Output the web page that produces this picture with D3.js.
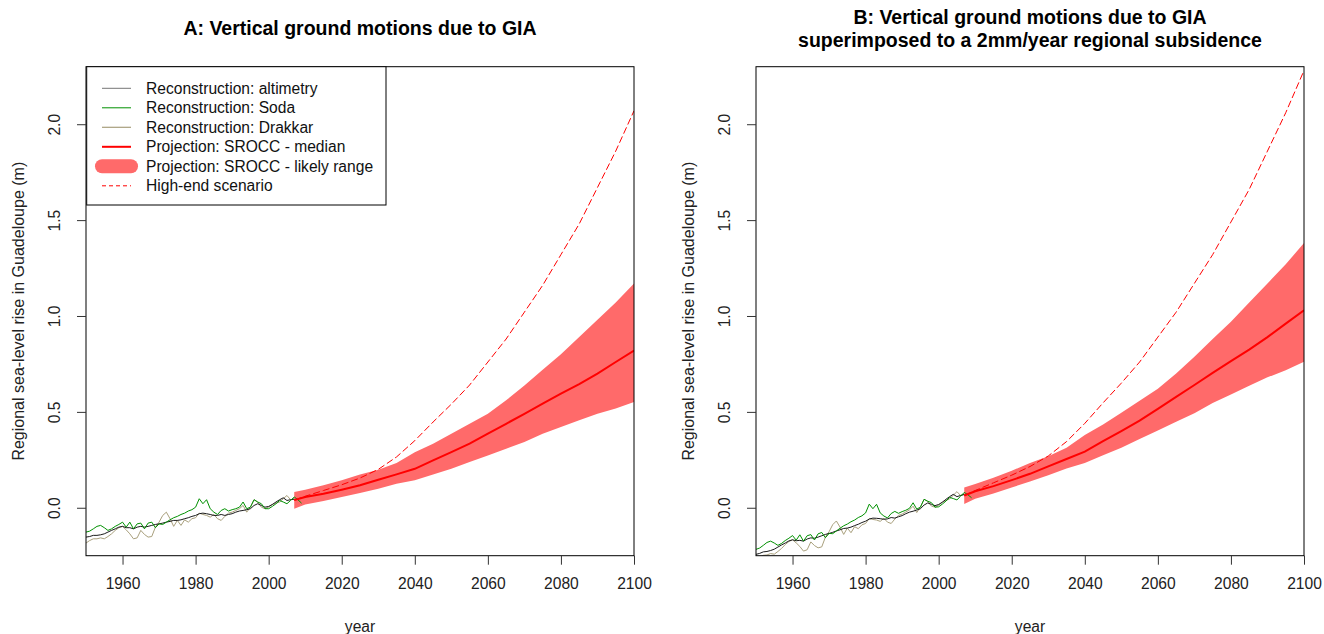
<!DOCTYPE html>
<html><head><meta charset="utf-8">
<script src="https://cdn.jsdelivr.net/npm/d3@7"></script>
<style>body{margin:0;background:#fff} text{font-family:"Liberation Sans",Arial,sans-serif}</style>
</head><body><svg id="c" width="1324" height="634"></svg>
<script>
// ---------- data ----------
const reconStart = 1950;
const altimetry = [-0.153,-0.150,-0.144,-0.144,-0.141,-0.136,-0.127,-0.118,-0.110,-0.101,
  -0.097,-0.104,-0.104,-0.110,-0.101,-0.097,-0.101,-0.097,-0.092,-0.087,
  -0.084,-0.080,-0.075,-0.071,-0.066,-0.066,-0.063,-0.057,-0.052,-0.045,
  -0.040,-0.031,-0.028,-0.031,-0.035,-0.040,-0.040,-0.035,-0.040,-0.035,
  -0.031,-0.023,-0.017,-0.014,-0.010,-0.005,0.012,0.021,0.012,0.003,
  0.007,0.017,0.030,0.042,0.052,0.038,0.042,0.045];
const soda = [-0.127,-0.122,-0.110,-0.097,-0.092,-0.104,-0.118,-0.110,-0.097,-0.087,
  -0.075,-0.101,-0.075,-0.110,-0.084,-0.080,-0.110,-0.080,-0.075,-0.104,
  -0.084,-0.087,-0.075,-0.063,-0.052,-0.045,-0.035,-0.028,-0.017,-0.010,
  0.003,0.047,0.021,0.042,-0.005,-0.023,-0.035,-0.014,-0.005,-0.017,
  -0.010,-0.005,0.003,0.030,-0.005,0.003,0.042,0.030,0.021,-0.005,
  -0.005,0.007,0.021,0.038,0.030,0.021,0.038,0.056,0.042,0.024];
const drakkar = [-0.184,-0.171,-0.162,-0.162,-0.157,-0.162,-0.150,-0.136,-0.118,-0.104,
  -0.097,-0.115,-0.136,-0.162,-0.157,-0.118,-0.139,-0.153,-0.150,-0.101,
  -0.075,-0.040,-0.023,-0.057,-0.097,-0.066,-0.092,-0.063,-0.075,-0.057,
  -0.052,-0.028,-0.035,-0.040,-0.049,-0.035,-0.057,-0.066,-0.045,-0.028,
  -0.023,-0.014,-0.005,0.012,-0.023,0.003,0.042,0.030,0.003,-0.005,
  0.003,0.017,0.024,0.030,0.047,0.064,0.042,0.047];

const projYears = [2007,2010,2015,2020,2025,2030,2035,2040,2045,2050,2055,2060,2065,2070,2075,2080,2085,2090,2095,2100];
const projMedian = [0.040,0.056,0.073,0.094,0.117,0.146,0.174,0.203,0.247,0.290,0.334,0.386,0.438,0.490,0.543,0.595,0.645,0.700,0.760,0.820];
const projUpper  = [0.082,0.094,0.117,0.143,0.174,0.198,0.233,0.290,0.334,0.386,0.438,0.490,0.560,0.638,0.720,0.800,0.890,0.980,1.070,1.170];
const projLower  = [-0.005,0.017,0.035,0.056,0.077,0.099,0.125,0.143,0.174,0.203,0.238,0.273,0.308,0.343,0.386,0.421,0.456,0.490,0.517,0.551];
const highEnd    = [0.040,0.060,0.090,0.120,0.155,0.200,0.265,0.350,0.447,0.540,0.640,0.760,0.880,1.020,1.160,1.320,1.480,1.670,1.860,2.070];

// panel B: same series plus a 2 mm/year regional subsidence (reference year 1995)
const subsidenceRate = 0.002, subsidenceRef = 1995;

const xTicks = [1960,1980,2000,2020,2040,2060,2080,2100];
const yTicks = [0.0,0.5,1.0,1.5,2.0];
const legendItems = ["Reconstruction: altimetry","Reconstruction: Soda","Reconstruction: Drakkar",
  "Projection: SROCC - median","Projection: SROCC - likely range","High-end scenario"];

const colAlt = "#1a1a1a", colSoda = "#009000", colDrak = "#a89f7c", colRed = "#ff0000", colBand = "#ff6a6a";
const FS = 15.6;

// ---------- drawing ----------
const svg = d3.select("#c");

function panel(ox, title, shift, withLegend, id) {
  const L = ox + 86, R = ox + 634, T = 66.7, B = 555.7;
  const x = d3.scaleLinear().domain([1950, 2100]).range([L, R]);
  const y = d3.scaleLinear().domain([-0.25, 2.3]).range([B, T]);
  const g = svg.append("g");
  g.append("clipPath").attr("id", id).append("rect").attr("x", L).attr("y", T).attr("width", R - L).attr("height", B - T);
  const plot = g.append("g").attr("clip-path", `url(#${id})`);
  const sh = yr => shift ? subsidenceRate * (yr - subsidenceRef) : 0;

  const proj = projYears.map((yr, i) => ({yr, m: projMedian[i], u: projUpper[i], l: projLower[i], h: highEnd[i]}));
  plot.append("path").datum(proj)
    .attr("d", d3.area().x(d => x(d.yr)).y0(d => y(d.l + sh(d.yr))).y1(d => y(d.u + sh(d.yr))))
    .attr("fill", colBand);
  plot.append("path").datum(proj)
    .attr("d", d3.line().x(d => x(d.yr)).y(d => y(d.h + sh(d.yr))))
    .attr("fill", "none").attr("stroke", colRed).attr("stroke-width", 1).attr("stroke-dasharray", "7,3");

  const recon = (arr, col) => plot.append("path")
    .datum(arr.map((v, i) => ({yr: reconStart + i, v})))
    .attr("d", d3.line().x(d => x(d.yr)).y(d => y(d.v + sh(d.yr))))
    .attr("fill", "none").attr("stroke", col).attr("stroke-width", 1);
  recon(drakkar, colDrak);
  recon(altimetry, colAlt);
  recon(soda, colSoda);

  plot.append("path").datum(proj)
    .attr("d", d3.line().x(d => x(d.yr)).y(d => y(d.m + sh(d.yr))))
    .attr("fill", "none").attr("stroke", colRed).attr("stroke-width", 2);

  // box
  g.append("rect").attr("x", L).attr("y", T).attr("width", R - L).attr("height", B - T)
    .attr("fill", "none").attr("stroke", "#000").attr("stroke-width", 1);

  // x axis
  const xa = g.append("g").attr("transform", `translate(0,${B})`)
    .call(d3.axisBottom(x).tickValues(xTicks).tickFormat(d3.format("d")).tickSize(9).tickPadding(13).tickSizeOuter(0));
  xa.select(".domain").remove();
  xa.selectAll("line").attr("stroke", "#333");
  xa.selectAll("text").attr("font-size", FS).attr("fill", "#222").attr("font-family", '"Liberation Sans",Arial,sans-serif');

  // y axis
  const ya = g.append("g").attr("transform", `translate(${L},0)`)
    .call(d3.axisLeft(y).tickValues(yTicks).tickFormat(d3.format(".1f")).tickSize(9).tickSizeOuter(0));
  ya.select(".domain").remove();
  ya.selectAll("line").attr("stroke", "#333");
  ya.selectAll("text")
    .attr("font-size", FS).attr("fill", "#222").attr("font-family", '"Liberation Sans",Arial,sans-serif')
    .attr("text-anchor", "middle").attr("dy", null).attr("x", null).attr("dominant-baseline", "central")
    .attr("transform", function(d){ return `translate(${-32},0) rotate(-90)`; });

  // labels
  g.append("text").attr("x", (L + R) / 2).attr("y", 632).attr("text-anchor", "middle")
    .attr("font-size", FS).attr("fill", "#222").text("year");
  g.append("text").attr("transform", `translate(${ox + 24},${(T + B) / 2}) rotate(-90)`)
    .attr("text-anchor", "middle").attr("font-size", 16).attr("fill", "#222")
    .text("Regional sea-level rise in Guadeloupe (m)");

  const tl = title.length;
  title.forEach((t, i) => {
    const yy = tl === 1 ? 35 : 24 + i * 23;
    g.append("text").attr("x", (L + R) / 2).attr("y", yy).attr("text-anchor", "middle")
      .attr("font-size", 19.5).attr("font-weight", "bold").attr("fill", "#000").text(t);
  });

  if (withLegend) {
    const lg = g.append("g");
    lg.append("rect").attr("x", L + 0.7).attr("y", T).attr("width", 386 - L - 0.7).attr("height", 205 - T)
      .attr("fill", "#fff").attr("stroke", "#000").attr("stroke-width", 1);
    const styles = [
      {c: colAlt, w: 1, op: 0.6}, {c: colSoda, w: 1}, {c: colDrak, w: 1.2},
      {c: colRed, w: 2}, {c: colBand, w: 14, cap: "round"}, {c: colRed, w: 1, dash: "4,3"}];
    legendItems.forEach((t, i) => {
      const yy = 88.3 + i * 19.5;
      const s = styles[i];
      lg.append("line").attr("x1", L + 16).attr("x2", L + 45).attr("y1", yy).attr("y2", yy)
        .attr("stroke", s.c).attr("stroke-width", s.w).attr("stroke-linecap", s.cap || "butt")
        .attr("stroke-dasharray", s.dash || null).attr("stroke-opacity", s.op || 1);
      lg.append("text").attr("x", L + 60).attr("y", yy).attr("dominant-baseline", "central")
        .attr("font-size", FS).attr("fill", "#111").text(t);
    });
  }
}

panel(0, ["A: Vertical ground motions due to GIA"], false, true, "clipA");
panel(670, ["B: Vertical ground motions due to GIA", "superimposed to a 2mm/year regional subsidence"], true, false, "clipB");
</script></body></html>
